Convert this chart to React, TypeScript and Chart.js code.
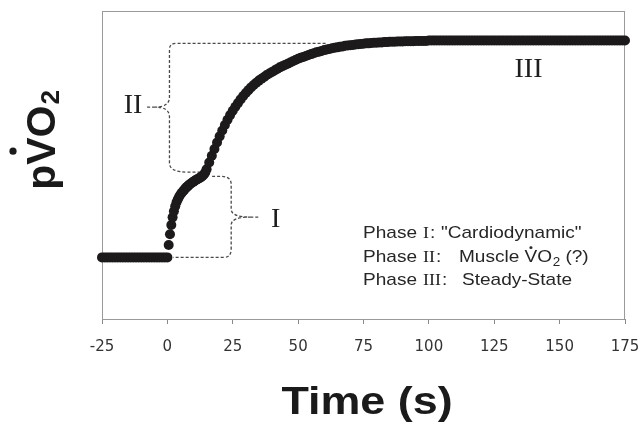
import React, { useEffect, useRef } from "react";
import { Chart, registerables } from "chart.js";

Chart.register(...registerables);

// ---- axis ----
const X_MIN = -25;
const X_MAX = 175;
const X_STEP = 25;
const Y_MIN = 0;
const Y_MAX = 100;

// ---- data (arbitrary pVO2 units) ----
// baseline: t = -25 .. 0 s, every 1 s
const baselineStart = -25;
const baselineStep = 1;
const baselineValues = [
  20, 20, 20, 20, 20, 20, 20, 20, 20, 20, 20, 20, 20, 20, 20, 20, 20, 20, 20, 20, 20, 20, 20, 20, 20, 20,
];
// phase I: t = 0.5 .. 14.5 s, every 0.5 s
const phaseIStart = 0.5;
const phaseIStep = 0.5;
const phaseIValues = [
  24.0, 27.5, 30.5, 33.0, 35.0, 36.6, 37.9, 38.9, 39.7, 40.4, 41.0, 41.5, 42.0, 42.5, 42.9, 43.3, 43.7, 44.0, 44.3,
  44.6, 44.9, 45.2, 45.4, 45.6, 45.9, 46.2, 46.5, 46.9, 47.6,
];
// phase II / III: t = 15 .. 175 s, every 1 s
const phaseIIStart = 15;
const phaseIIStep = 1;
const phaseIIValues = [
  48.6, 50.8, 53.0, 55.2, 57.3, 59.3, 61.2, 63.0, 64.7, 66.2, 67.6, 68.9, 70.1, 71.3, 72.4, 73.4, 74.3, 75.2, 76.0,
  76.7, 77.4, 78.0, 78.6, 79.2, 79.7, 80.2, 80.7, 81.2, 81.7, 82.1, 82.5, 82.9, 83.3, 83.7, 84.1, 84.5, 84.8, 85.1,
  85.4, 85.7, 86.0, 86.3, 86.6, 86.8, 87.0, 87.3, 87.5, 87.7, 87.9, 88.1, 88.2, 88.4, 88.5, 88.7, 88.8, 88.9, 89.0,
  89.1, 89.2, 89.3, 89.4, 89.5, 89.5, 89.6, 89.7, 89.7, 89.8, 89.8, 89.9, 89.9, 90.0, 90.0, 90.0, 90.1, 90.1, 90.1,
  90.2, 90.2, 90.2, 90.2, 90.3, 90.3, 90.3, 90.3, 90.3, 90.4,
  90.4, 90.4, 90.4, 90.4, 90.4, 90.4, 90.4, 90.4, 90.4, 90.4, 90.4, 90.4, 90.4, 90.4, 90.4, 90.4, 90.4, 90.4, 90.4,
  90.4, 90.4, 90.4, 90.4, 90.4, 90.4, 90.4, 90.4, 90.4, 90.4, 90.4, 90.4, 90.4, 90.4, 90.4, 90.4, 90.4, 90.4, 90.4,
  90.4, 90.4, 90.4, 90.4, 90.4, 90.4, 90.4, 90.4, 90.4, 90.4, 90.4, 90.4, 90.4, 90.4, 90.4, 90.4, 90.4, 90.4, 90.4,
  90.4, 90.4, 90.4, 90.4, 90.4, 90.4, 90.4, 90.4, 90.4, 90.4, 90.4, 90.4, 90.4, 90.4, 90.4, 90.4, 90.4, 90.4,
];

// ---- annotations (data coordinates) ----
const braceI = { edge: 24.4, top: 46.3, bottom: 20, topEnd: 17.1, bottomEnd: 2.2, tipY: 33.1, tip: 31.7, tipEnd: 35.5 };
const braceII = { edge: 0.8, top: 89.5, bottom: 47.7, topEnd: 60.5, bottomEnd: 14, tipY: 68.8, tip: -4.7, tipEnd: -8.5 };
const phaseLabels = ["I", "II", "III"];
const phaseLabelX = [41.4, -13.1, 138.1];
const phaseLabelY = [32.1, 69.2, 80.8];
const legendDescriptions = ['"Cardiodynamic"', "Muscle", "Steady-State"];

const xLabel = "Time (s)";

function segment(start: number, step: number, values: number[]) {
  return values.map((v, i) => ({ x: start + i * step, y: v }));
}

function drawBrace(ctx: CanvasRenderingContext2D, xs: (v: number) => number, ys: (v: number) => number, b: any,
  rTop: number[], rBot: number[], cusp: number) {
  const xe = xs(b.edge), yt = ys(b.top), yb = ys(b.bottom);
  const xt = xs(b.topEnd), xb = xs(b.bottomEnd);
  const yTip = ys(b.tipY), xTip = xs(b.tip), xTipEnd = xs(b.tipEnd);
  const dT = Math.sign(xt - xe), dB = Math.sign(xb - xe);
  ctx.beginPath();
  ctx.moveTo(xt, yt);
  ctx.lineTo(xe + dT * rTop[0], yt);
  ctx.quadraticCurveTo(xe, yt, xe, yt + rTop[1]);
  ctx.lineTo(xe, yTip - cusp);
  ctx.quadraticCurveTo(xe, yTip, xTip, yTip);
  ctx.quadraticCurveTo(xe, yTip, xe, yTip + cusp);
  ctx.lineTo(xe, yb - rBot[1]);
  ctx.quadraticCurveTo(xe, yb, xe + dB * rBot[0], yb);
  ctx.lineTo(xb, yb);
  ctx.moveTo(xTip, yTip);
  ctx.lineTo(xTipEnd, yTip);
  ctx.stroke();
}

const SANS = '"Liberation Sans", Arial, sans-serif';
const SERIF = '"Liberation Serif", "Times New Roman", serif';

const overlayPlugin = {
  id: "overlay",
  beforeDatasetsDraw(chart: any) {
    const { ctx, chartArea: a, scales } = chart;
    const xs = (v: number) => scales.x.getPixelForValue(v);
    const ys = (v: number) => scales.y.getPixelForValue(v);
    ctx.save();
    // frame
    ctx.strokeStyle = "#9a9a9a";
    ctx.lineWidth = 1;
    ctx.strokeRect(Math.round(a.left) + 0.5, Math.round(a.top) + 0.5, Math.round(a.right - a.left) - 1, Math.round(a.bottom - a.top));
    // braces
    ctx.strokeStyle = "#4a4a4a";
    ctx.lineWidth = 1.3;
    ctx.setLineDash([3, 2]);
    drawBrace(ctx, xs, ys, braceII, [7, 6], [18, 9], 10);
    drawBrace(ctx, xs, ys, braceI, [10, 8], [8, 8], 8);
    ctx.restore();
  },
  afterDraw(chart: any) {
    const { ctx, scales } = chart;
    const xs = (v: number) => scales.x.getPixelForValue(v);
    const ys = (v: number) => scales.y.getPixelForValue(v);
    ctx.save();
    ctx.fillStyle = "#1e1e1e";
    // big roman numerals
    ctx.font = `28px ${SERIF}`;
    ctx.textAlign = "center";
    ctx.textBaseline = "middle";
    phaseLabels.forEach((t, i) => ctx.fillText(t, xs(phaseLabelX[i]), ys(phaseLabelY[i])));

    // legend text
    const sx = 1.12;
    const x0 = 363;
    const baselines = [238, 261.7, 285];
    const numX = 423;
    const descX = [441, 459, 462];
    ctx.textAlign = "left";
    ctx.textBaseline = "alphabetic";
    baselines.forEach((by, i) => {
      ctx.save();
      ctx.translate(0, by);
      ctx.scale(sx, 1);
      ctx.font = `17px ${SANS}`;
      ctx.fillStyle = "#262626";
      ctx.fillText("Phase", x0 / sx, 0);
      ctx.font = `16px ${SERIF}`;
      ctx.fillText(phaseLabels[i], numX / sx, 0);
      const wn = ctx.measureText(phaseLabels[i]).width;
      ctx.font = `17px ${SANS}`;
      ctx.fillText(":", numX / sx + wn + 1, 0);
      let x = descX[i] / sx;
      ctx.fillText(legendDescriptions[i], x, 0);
      if (i === 1) {
        x += ctx.measureText(legendDescriptions[i] + " ").width;
        const wV = ctx.measureText("V").width;
        ctx.fillText("V", x, 0);
        ctx.beginPath();
        ctx.arc(x + wV / 2, -14, 1.4, 0, Math.PI * 2);
        ctx.fill();
        x += wV;
        ctx.fillText("O", x, 0);
        x += ctx.measureText("O").width;
        ctx.font = `12px ${SANS}`;
        ctx.fillText("2", x + 0.5, 4);
        x += ctx.measureText("2").width + 0.5;
        ctx.font = `17px ${SANS}`;
        ctx.fillText(" (?)", x, 0);
      }
      ctx.restore();
    });

    // x axis title
    ctx.save();
    ctx.translate(367, 414);
    ctx.scale(1.15, 1);
    ctx.font = `bold 39px ${SANS}`;
    ctx.fillStyle = "#1a1a1a";
    ctx.textAlign = "center";
    ctx.fillText(xLabel, 0, 0);
    ctx.restore();

    // y axis title: p V(dot) O 2
    ctx.save();
    ctx.translate(55, 140);
    ctx.rotate(-Math.PI / 2);
    ctx.fillStyle = "#1a1a1a";
    ctx.textAlign = "left";
    ctx.textBaseline = "alphabetic";
    ctx.font = `bold 41px ${SANS}`;
    const wp = ctx.measureText("p").width;
    const wV = ctx.measureText("V").width;
    const wO = ctx.measureText("O").width;
    ctx.font = `bold 26px ${SANS}`;
    const w2 = ctx.measureText("2").width;
    const total = wp + wV + wO + w2 + 1;
    let px = -total / 2;
    ctx.font = `bold 41px ${SANS}`;
    ctx.fillText("p", px, 0);
    px += wp;
    ctx.fillText("V", px, 0);
    ctx.beginPath();
    ctx.arc(px + wV / 2, -42, 3.6, 0, Math.PI * 2);
    ctx.fill();
    px += wV;
    ctx.fillText("O", px, 0);
    px += wO + 1;
    ctx.font = `bold 26px ${SANS}`;
    ctx.fillText("2", px, 4);
    ctx.restore();

    ctx.restore();
  },
};

export default function App() {
  const ref = useRef<HTMLCanvasElement | null>(null);
  useEffect(() => {
    document.body.style.margin = "0";
    const canvas = ref.current;
    if (!canvas) return;
    const data = [
      ...segment(baselineStart, baselineStep, baselineValues),
      ...segment(phaseIStart, phaseIStep, phaseIValues),
      ...segment(phaseIIStart, phaseIIStep, phaseIIValues),
    ];
    const chart = new Chart(canvas, {
      type: "scatter",
      data: {
        datasets: [
          {
            data,
            backgroundColor: "#1d1a1b",
            borderWidth: 0,
            pointRadius: 5,
            pointHoverRadius: 5,
            clip: false as any,
          } as any,
        ],
      },
      options: {
        animation: false,
        responsive: false,
        maintainAspectRatio: false,
        events: [],
        layout: { padding: { left: 102, right: 16, top: 11, bottom: 0 } },
        plugins: { legend: { display: false }, tooltip: { enabled: false } },
        scales: {
          x: {
            type: "linear",
            min: X_MIN,
            max: X_MAX,
            ticks: {
              stepSize: X_STEP,
              color: "#333",
              font: { family: '"DejaVu Sans", sans-serif', size: 15 },
              padding: 14,
              maxRotation: 0,
              autoSkip: false,
            },
            grid: { drawOnChartArea: false, drawTicks: true, tickLength: 5, color: "#8a8a8a" },
            border: { color: "#8a8a8a" },
            afterFit: (s: any) => {
              s.height = 107;
              s.paddingLeft = 0;
              s.paddingRight = 0;
            },
          },
          y: { display: false, min: Y_MIN, max: Y_MAX },
        },
      },
      plugins: [overlayPlugin],
    } as any);
    return () => chart.destroy();
  }, []);
  return (
    <div style={{ position: "relative", width: 641, height: 426, background: "#fff" }}>
      <canvas ref={ref} width={641} height={426} style={{ width: 641, height: 426, display: "block" }} />
    </div>
  );
}
